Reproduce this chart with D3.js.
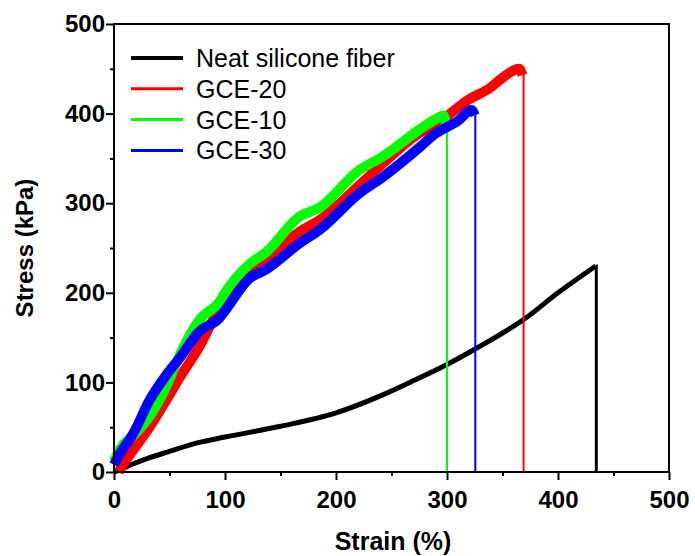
<!DOCTYPE html>
<html>
<head>
<meta charset="utf-8">
<script src="https://cdn.jsdelivr.net/npm/d3@7"></script>
<style>
  body { margin: 0; background: #fff; }
  svg { font-family: "Liberation Sans", Arial, sans-serif; }
</style>
</head>
<body>
<svg id="chart"></svg>
<script>
// stress-strain curves: [strain %, stress kPa]
var neat = [[0,0],[5,2],[15,8],[32,16],[50,23],[77,33],[100,39],[150,51],[200,66],[240,85],[270,102],[300,120],[325,137],[370,171],[400,200],[434,230]];
var gce20 = [[4,0],[10,12],[17,24],[32,50],[47,80],[59,105],[77,140],[95,182],[100,190],[122,225],[137,238],[167,268],[185,281],[221,320],[242,344],[275,378],[290,388],[320,416],[338,428],[350,440],[365,450],[368,443]];
var gce10 = [[0,12],[5,25],[17,40],[32,62],[47,95],[59,130],[77,170],[95,190],[100,200],[122,232],[137,245],[167,285],[185,295],[221,337],[242,352],[275,382],[290,394],[297,398],[299,388]];
var gce30 = [[0,8],[5,20],[17,42],[32,80],[47,108],[59,127],[77,157],[95,172],[100,180],[122,216],[137,226],[167,255],[185,270],[221,311],[242,329],[275,362],[290,378],[310,392],[322,404],[325,398]];

// where each fiber broke
var breakStrain = {"Neat silicone fiber": 434.5, "GCE-20": 369, "GCE-10": 300, "GCE-30": 325.5};

var legendNames = ["Neat silicone fiber", "GCE-20", "GCE-10", "GCE-30"];
var xTicks = [0, 100, 200, 300, 400, 500];
var yTicks = [0, 100, 200, 300, 400, 500];

var series = [
  {name: "Neat silicone fiber", data: neat, color: "#000000", band: 5},
  {name: "GCE-20", data: gce20, color: "#ff0000", band: 10},
  {name: "GCE-10", data: gce10, color: "#00ff00", band: 10},
  {name: "GCE-30", data: gce30, color: "#0000ff", band: 10}
];
var colorOf = {};
series.forEach(function(s){ colorOf[s.name] = s.color; });

var W = 695, H = 556;
var m = {left: 114, right: 26, top: 24, bottom: 84};

var svg = d3.select("#chart").attr("width", W).attr("height", H);

var x = d3.scaleLinear().domain([0, 500]).range([m.left, W - m.right]);
var y = d3.scaleLinear().domain([0, 500]).range([H - m.bottom, m.top]);

var line = d3.line().x(function(d){ return x(d[0]); }).y(function(d){ return y(d[1]); });
var smooth = d3.line().curve(d3.curveMonotoneX).x(function(d){ return x(d[0]); }).y(function(d){ return y(d[1]); });

// draw order: black, red, green, blue on top
series.forEach(function(s){
  var last = s.data[s.data.length - 1];
  var bx = breakStrain[s.name];
  svg.append("path")
    .attr("d", smooth(s.data))
    .attr("fill", "none")
    .attr("stroke", s.color)
    .attr("stroke-width", s.band)
    .attr("stroke-linejoin", "round");
  // drop after break
  svg.append("path")
    .attr("d", line([last, [bx, last[1]], [bx, 0]]))
    .attr("fill", "none")
    .attr("stroke", s.color)
    .attr("stroke-width", s.name == "Neat silicone fiber" ? 3 : 2);
});

// frame
svg.append("rect")
  .attr("x", x(0)).attr("y", y(500))
  .attr("width", x(500) - x(0)).attr("height", y(0) - y(500))
  .attr("fill", "none").attr("stroke", "#000").attr("stroke-width", 2);

// axes
var xAxis = d3.axisBottom(x).tickValues(xTicks).tickSize(8).tickPadding(11).tickFormat(d3.format("d"));
var xMinor = d3.axisBottom(x).tickValues(d3.range(50, 500, 100)).tickSize(4).tickFormat("");
var yAxis = d3.axisLeft(y).tickValues(yTicks).tickSize(8).tickPadding(1).tickFormat(d3.format("d"));
var yMinor = d3.axisLeft(y).tickValues(d3.range(50, 500, 100)).tickSize(4).tickFormat("");

function styleAxis(g){
  g.select(".domain").remove();
  g.selectAll("line").attr("stroke", "#000").attr("stroke-width", 2);
  g.selectAll("text").attr("font-size", 24).attr("font-weight", "bold").attr("fill", "#000")
    .attr("font-family", "'Liberation Sans', Arial, sans-serif");
}

svg.append("g").attr("transform", "translate(0," + y(0) + ")").call(xAxis).call(styleAxis);
svg.append("g").attr("transform", "translate(0," + y(0) + ")").call(xMinor).call(styleAxis);
svg.append("g").attr("transform", "translate(" + x(0) + ",0)").call(yAxis).call(styleAxis);
svg.append("g").attr("transform", "translate(" + x(0) + ",0)").call(yMinor).call(styleAxis);

// axis titles
svg.append("text")
  .attr("x", 393).attr("y", 550)
  .attr("text-anchor", "middle")
  .attr("font-size", 25).attr("font-weight", "bold")
  .text("Strain (%)");

svg.append("text")
  .attr("transform", "translate(33," + ((y(0) + y(500)) / 2) + ") rotate(-90)")
  .attr("text-anchor", "middle")
  .attr("font-size", 24).attr("font-weight", "bold")
  .text("Stress (kPa)");

// legend
var legend = svg.append("g");
legendNames.forEach(function(n, i){
  var ly = 58 + i * 30.8;
  legend.append("line")
    .attr("x1", 131).attr("x2", 183).attr("y1", ly).attr("y2", ly)
    .attr("stroke", colorOf[n]).attr("stroke-width", n == "Neat silicone fiber" ? 4 : 3);
  legend.append("text")
    .attr("x", 196).attr("y", ly + 9)
    .attr("font-size", 25)
    .text(n);
});
</script>
</body>
</html>
